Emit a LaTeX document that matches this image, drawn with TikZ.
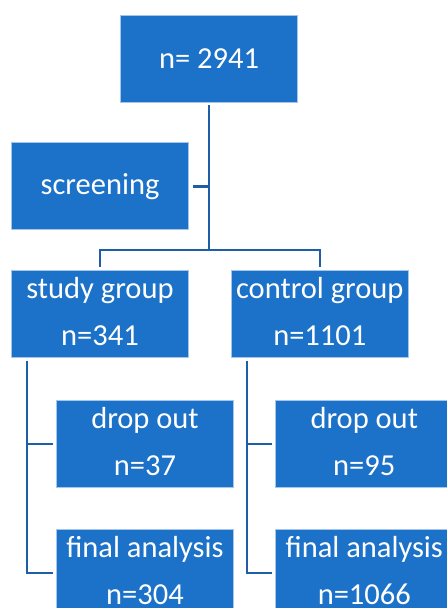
\documentclass[tikz,border=0pt]{standalone}
\usepackage{fontspec}
\setmainfont{Carlito}
\usepackage{xcolor}
\definecolor{BoxBlue}{HTML}{1C71C8}
\definecolor{EdgeBlue}{HTML}{A4C6EA}
\definecolor{LineBlue}{HTML}{1D5EA6}
\usepackage{tikz}
\usetikzlibrary{positioning,calc}
\newcommand{\boxlines}[2]{\rule{0pt}{28pt}#1\\#2\rule[-12pt]{0pt}{12pt}}

\begin{document}
\begin{tikzpicture}[node distance=40pt and 42pt, every node/.style={font=\fontsize{30.5}{47}\selectfont}, box/.style={draw=EdgeBlue,line width=0.8pt,fill=BoxBlue,text=white,minimum width=177pt,minimum height=87pt,inner xsep=2pt,inner ysep=0pt,align=center}, link/.style={draw=LineBlue,line width=2.4pt,shorten <=3pt,shorten >=3pt}]
\useasboundingbox (0,0) rectangle (447pt,-608pt);
\clip (0,0) rectangle (447pt,-608pt);
\node[box] (total) at (209pt,-58.5pt) {n= 2941};
\node[box,below=40pt of total,xshift=-109pt] (screening) {screening};
\node[box,below=40pt of screening] (study) {\boxlines{study group}{n=341}};
\node[box,right=42pt of study] (control) {\boxlines{control group}{n=1101}};
\node[box,below=42pt of study,xshift=45pt] (studydrop) {\boxlines{drop out}{n=37}};
\node[box,below=41pt of studydrop] (studyfinal) {\boxlines{final analysis}{n=304}};
\node[box,below=42pt of control,xshift=44.5pt] (controldrop) {\boxlines{drop out}{n=95}};
\node[box,below=41pt of controldrop] (controlfinal) {\boxlines{final analysis}{n=1066}};
\coordinate (split) at ($(screening.south)!0.5!(study.north)$);
\coordinate (studyrail) at ([xshift=16pt]study.south west);
\coordinate (controlrail) at ([xshift=16pt]control.south west);
\draw[link,shorten >=0pt] (total.south) -- (total.south |- split);
\draw[link,shorten <=4pt,shorten >=0pt] (screening.east) -- (screening.east -| total.south);
\draw[link] (study.north) -- (study.north |- split) -- (control.north |- split) -- (control.north);
\draw[link] (studyrail) |- (studyfinal.west);
\draw[link,shorten <=0pt] (studyrail |- studydrop.west) -- (studydrop.west);
\draw[link] (controlrail) |- (controlfinal.west);
\draw[link,shorten <=0pt] (controlrail |- controldrop.west) -- (controldrop.west);
\end{tikzpicture}
\end{document}
